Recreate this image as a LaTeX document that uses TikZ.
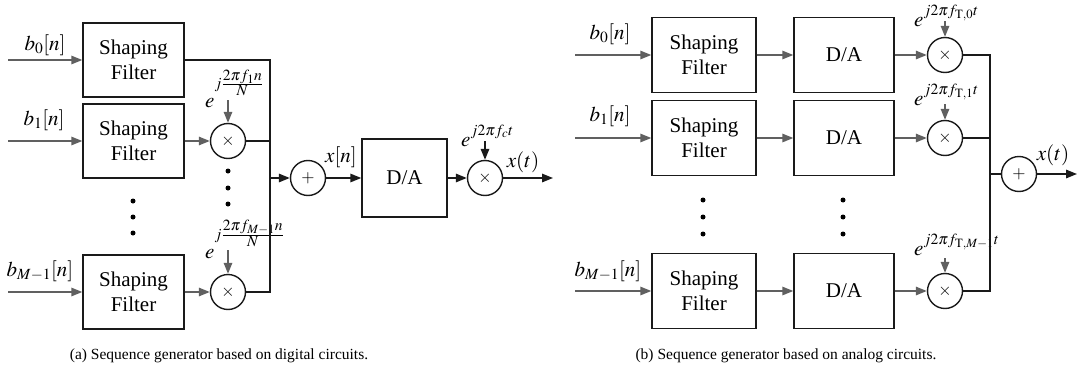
\documentclass[tikz,border=0pt]{standalone}
\usepackage{mathptmx}
\usepackage{fontspec}
\setmainfont{Liberation Serif}
\usetikzlibrary{arrows.meta}
\definecolor{gr}{HTML}{606060}
\definecolor{bk}{HTML}{1A1A1A}
\newcommand\upsup[2]{\raisebox{#1}{$\scriptstyle #2$}}
\begin{document}
\begin{tikzpicture}[x=1pt,y=-1pt,
  box/.style={draw=bk,line width=1.4pt,minimum width=101pt,minimum height=74pt,inner sep=0pt,align=center,font=\fontsize{21}{25}\selectfont},
  op/.style={circle,draw=bk,line width=1.4pt,minimum size=35pt,inner sep=0pt,font=\fontsize{17}{19}\selectfont},
  garr/.style={draw=gr,line width=1.4pt,-{Triangle[length=11pt,width=8.5pt]}},
  karr/.style={draw=bk,line width=1.5pt,-{Triangle[length=11pt,width=8.5pt]}},
  wire/.style={draw=bk,line width=1.5pt},
  lab/.style={font=\fontsize{21}{25}\selectfont,inner sep=0pt},
  bigdot/.style={circle,fill=black,minimum size=5pt,inner sep=0pt},
  captext/.style={font=\fontsize{15.5}{18}\selectfont,inner sep=0pt}]
\useasboundingbox (0,0) rectangle (1080,380);

% ---------------- (a) ----------------
\node[box] (af1) at (133.5,60) {Shaping\\Filter};
\node[box] (af2) at (133.5,141) {Shaping\\Filter};
\node[box] (af3) at (133.5,292) {Shaping\\Filter};
\coordinate (ai1) at (8,60);
\coordinate (ai2) at (8,141);
\coordinate (ai3) at (8,292);
\draw[garr] (ai1) -- (af1);
\draw[garr] (ai2) -- (af2);
\draw[garr] (ai3) -- (af3);
\node[lab] (alb0) at (45,45) {$b_0[n]$};
\node[lab] (alb1) at (44,120) {$b_1[n]$};
\node[lab] (alb3) at (40,271) {$b_{M-1}[n]$};

\node[op] (am1) at (228,141) {$\times$};
\node[op] (am3) at (228,292) {$\times$};
\draw[garr] (af2) -- (am1);
\draw[garr] (af3) -- (am3);
\coordinate (ae1) at (228,100);
\coordinate (ae3) at (228,250);
\draw[garr] (ae1) -- (am1);
\draw[garr] (ae3) -- (am3);
\node[lab,anchor=base west] (ael1) at (205,107) {$e^{\upsup{11pt}{j\frac{\scriptstyle 2\pi f_1 n}{\scriptstyle N}}}$};
\node[lab,anchor=base west] (ael3) at (205,258) {$e^{\upsup{11pt}{j\frac{\scriptstyle 2\pi f_{M-1} n}{\scriptstyle N}}}$};

\coordinate (abus1) at (270,60);
\coordinate (abus2) at (270,141);
\coordinate (abus3) at (270,292);
\coordinate (abusm) at (270,178);
\draw[wire] (af1.east) -- (abus1) -- (abus3) -- (am3.east);
\draw[wire] (am1.east) -- (abus2);

\node[bigdot] (ad1) at (133,201) {};
\node[bigdot] (ad2) at (133,217) {};
\node[bigdot] (ad3) at (133,233) {};
\node[bigdot] (ad4) at (228,171) {};
\node[bigdot] (ad5) at (228,188) {};
\node[bigdot] (ad6) at (228,204) {};

\node[op] (aplus) at (308,178) {$+$};
\draw[karr] (abusm) -- (aplus);
\node[box,minimum width=85pt,minimum height=78pt] (ada) at (404.5,178) {D/A};
\draw[karr] (aplus) -- (ada);
\node[lab] (axn) at (341,157) {$x[n]$};
\node[op] (amc) at (485,178) {$\times$};
\draw[karr] (ada) -- (amc);
\coordinate (aout) at (553,178);
\draw[karr] (amc) -- (aout);
\node[lab] (axt) at (523,162) {$x(t)$};
\coordinate (aec) at (485,141);
\draw[karr] (aec) -- (amc);
\node[lab,anchor=base west] (aelc) at (461,146) {$e^{\upsup{3pt}{j2\pi f_c t}}$};

\node[captext] (capa) at (219,356) {(a) Sequence generator based on digital circuits.};

% ---------------- (b) ----------------
\node[box,minimum width=104pt,minimum height=75pt] (bf1) at (704,55) {Shaping\\Filter};
\node[box,minimum width=104pt,minimum height=75pt] (bf2) at (704,138) {Shaping\\Filter};
\node[box,minimum width=104pt,minimum height=75pt] (bf3) at (704,291) {Shaping\\Filter};
\coordinate (bi1) at (575,55);
\coordinate (bi2) at (575,138);
\coordinate (bi3) at (575,291);
\draw[garr] (bi1) -- (bf1);
\draw[garr] (bi2) -- (bf2);
\draw[garr] (bi3) -- (bf3);
\node[lab] (blb0) at (610,34) {$b_0[n]$};
\node[lab] (blb1) at (610,116) {$b_1[n]$};
\node[lab] (blb3) at (608,271) {$b_{M-1}[n]$};

\node[box,minimum width=100pt,minimum height=75pt] (bd1) at (844,55) {D/A};
\node[box,minimum width=100pt,minimum height=75pt] (bd2) at (844,138) {D/A};
\node[box,minimum width=100pt,minimum height=75pt] (bd3) at (844,291) {D/A};
\draw[garr] (bf1) -- (bd1);
\draw[garr] (bf2) -- (bd2);
\draw[garr] (bf3) -- (bd3);

\node[op] (bm1) at (945,55) {$\times$};
\node[op] (bm2) at (945,138) {$\times$};
\node[op] (bm3) at (945,291) {$\times$};
\draw[garr] (bd1) -- (bm1);
\draw[garr] (bd2) -- (bm2);
\draw[garr] (bd3) -- (bm3);
\coordinate (be1) at (945,21);
\coordinate (be2) at (945,104);
\coordinate (be3) at (945,258);
\draw[garr] (be1) -- (bm1);
\draw[garr] (be2) -- (bm2);
\draw[garr] (be3) -- (bm3);
\node[lab,anchor=base west] (bel1) at (914,26) {$e^{\upsup{3pt}{j2\pi f_{\mathrm{T},0}t}}$};
\node[lab,anchor=base west] (bel2) at (914,105) {$e^{\upsup{3pt}{j2\pi f_{\mathrm{T},1}t}}$};
\node[lab,anchor=base west] (bel3) at (914,255) {$e^{\upsup{3pt}{j2\pi f_{\mathrm{T},M-1}t}}$};

\node[bigdot] (bd1a) at (703,200) {};
\node[bigdot] (bd1b) at (703,217) {};
\node[bigdot] (bd1c) at (703,234) {};
\node[bigdot] (bd2a) at (843,200) {};
\node[bigdot] (bd2b) at (843,217) {};
\node[bigdot] (bd2c) at (843,234) {};

\coordinate (bbus1) at (990,55);
\coordinate (bbus2) at (990,138);
\coordinate (bbus3) at (990,291);
\coordinate (bbusm) at (990,174);
\draw[wire] (bm1.east) -- (bbus1) -- (bbus3) -- (bm3.east);
\draw[wire] (bm2.east) -- (bbus2);
\node[op] (bplus) at (1019,174) {$+$};
\draw[wire] (bbusm) -- (bplus);
\coordinate (bout) at (1077,174);
\draw[karr] (bplus) -- (bout);
\node[lab] (bxt) at (1053,155) {$x(t)$};

\node[captext] (capb) at (786,356) {(b) Sequence generator based on analog circuits.};
\end{tikzpicture}
\end{document}
